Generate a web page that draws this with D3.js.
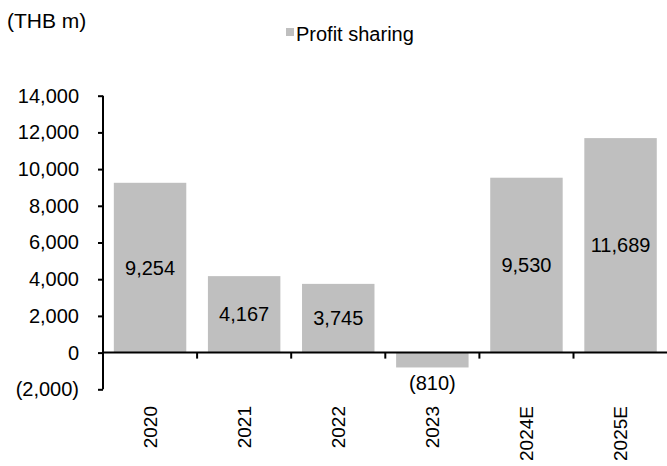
<!DOCTYPE html>
<html>
<head>
<meta charset="utf-8">
<script src="https://cdn.jsdelivr.net/npm/d3@7"></script>
<style>
  body { margin: 0; background: #fff; }
  svg text { font-family: "Liberation Sans", Arial, sans-serif; fill: #000; }
</style>
</head>
<body>
<div id="chart"></div>
<script>
// data
let years = ["2020", "2021", "2022", "2023", "2024E", "2025E"];
let profitSharing = [9254, 4167, 3745, -810, 9530, 11689];
let yTicks = [-2000, 0, 2000, 4000, 6000, 8000, 10000, 12000, 14000];
let seriesName = "Profit sharing";
let unitLabel = "(THB m)";

let W = 667, H = 466;

let svg = d3.select("#chart")
    .append("svg")
    .attr("width", W)
    .attr("height", H);

let fmt = function(v) {
    let s = d3.format(",")(Math.abs(v));
    return v < 0 ? "(" + s + ")" : s;
};

// scales
let x = d3.scaleBand()
    .domain(years)
    .range([103, 667.6])
    .paddingInner(0.23)
    .paddingOuter(0.115);

let y = d3.scaleLinear()
    .domain([-2000, 14000])
    .range([389.3, 95.7]);

// bars
svg.selectAll("rect.bar")
    .data(profitSharing)
    .enter()
    .append("rect")
    .attr("class", "bar")
    .attr("x", (d, i) => x(years[i]))
    .attr("width", x.bandwidth())
    .attr("y", d => y(Math.max(0, d)))
    .attr("height", d => Math.abs(y(d) - y(0)))
    .attr("fill", "#bfbfbf");

// value labels: middle of bar for positives, below the bar for negatives
svg.selectAll("text.val")
    .data(profitSharing)
    .enter()
    .append("text")
    .attr("class", "val")
    .attr("x", (d, i) => x(years[i]) + x.bandwidth() / 2)
    .attr("y", d => d >= 0 ? (y(d) + y(0)) / 2 : y(d) + 16)
    .attr("dy", "0.35em")
    .attr("text-anchor", "middle")
    .style("font-size", "20px")
    .text(d => fmt(d));

// y axis
let yAxis = svg.append("g")
    .attr("transform", "translate(103,0)")
    .call(d3.axisLeft(y).tickValues(yTicks).tickFormat(fmt).tickSize(5).tickPadding(19));
yAxis.select(".domain").attr("stroke", "#000").attr("stroke-width", 2)
    .attr("d", "M0," + y(-2000) + "V" + y(14000));
yAxis.selectAll(".tick line").attr("stroke", "#000").attr("stroke-width", 2);
yAxis.selectAll(".tick text")
    .style("font-size", "20px")
    .style("font-family", "'Liberation Sans', Arial, sans-serif")
    .attr("fill", "#000");

// x axis along zero
let xAxis = svg.append("g")
    .attr("transform", "translate(0," + y(0) + ")");
xAxis.append("line")
    .attr("x1", 102).attr("x2", W)
    .attr("stroke", "#000").attr("stroke-width", 2);
xAxis.selectAll("line.tk")
    .data(years.slice(1))
    .enter()
    .append("line")
    .attr("class", "tk")
    .attr("x1", d => x(d) - x.step() * x.paddingInner() / 2)
    .attr("x2", d => x(d) - x.step() * x.paddingInner() / 2)
    .attr("y1", 0).attr("y2", 6)
    .attr("stroke", "#000").attr("stroke-width", 2);

// category labels, rotated
svg.selectAll("text.cat")
    .data(years)
    .enter()
    .append("text")
    .attr("class", "cat")
    .attr("transform", d => "translate(" + (x(d) + x.bandwidth() / 2) + ",406) rotate(-90)")
    .attr("dy", "0.35em")
    .attr("text-anchor", "end")
    .style("font-size", "19px")
    .text(d => d);

// unit label
svg.append("text")
    .attr("x", 7)
    .attr("y", 28)
    .style("font-size", "21px")
    .text(unitLabel);

// legend
svg.append("rect")
    .attr("x", 286).attr("y", 28)
    .attr("width", 8).attr("height", 8)
    .attr("fill", "#bfbfbf");
svg.append("text")
    .attr("x", 296)
    .attr("y", 41)
    .style("font-size", "20px")
    .text(seriesName);
</script>
</body>
</html>
